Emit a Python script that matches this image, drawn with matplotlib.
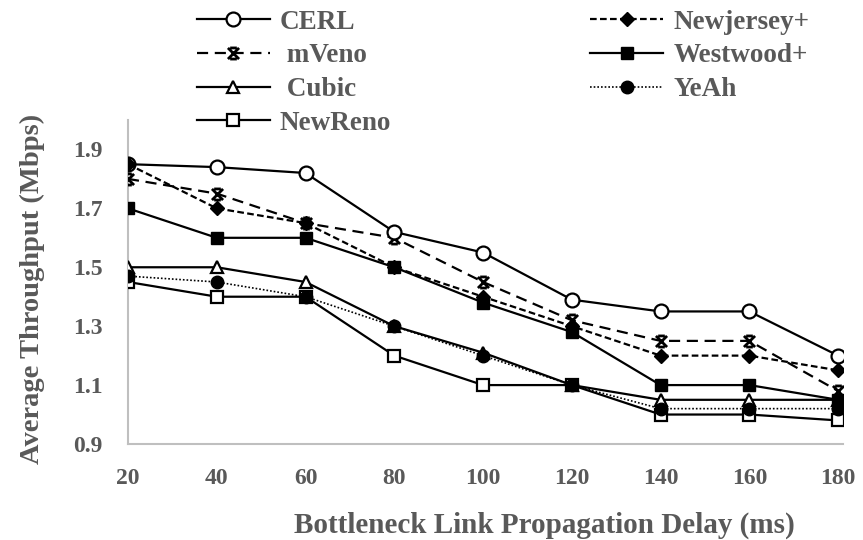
import matplotlib
matplotlib.use('Agg')
import matplotlib.pyplot as plt
from matplotlib.path import Path

# propagation delay (ms) on the bottleneck link
delay = [20, 40, 60, 80, 100, 120, 140, 160, 180]

# average throughput (Mbps) per TCP variant
cerl = [1.85, 1.84, 1.82, 1.62, 1.55, 1.39, 1.35, 1.35, 1.20]
mveno = [1.80, 1.75, 1.65, 1.60, 1.45, 1.32, 1.25, 1.25, 1.08]
cubic = [1.50, 1.50, 1.45, 1.30, 1.21, 1.10, 1.05, 1.05, 1.05]
newreno = [1.45, 1.40, 1.40, 1.20, 1.10, 1.10, 1.00, 1.00, 0.98]
newjersey = [1.85, 1.70, 1.65, 1.50, 1.40, 1.30, 1.20, 1.20, 1.15]
westwood = [1.70, 1.60, 1.60, 1.50, 1.38, 1.28, 1.10, 1.10, 1.05]
yeah = [1.47, 1.45, 1.40, 1.30, 1.20, 1.10, 1.02, 1.02, 1.02]

yticks = [0.9, 1.1, 1.3, 1.5, 1.7, 1.9]

txt = '#595959'
plt.rcParams['font.family'] = 'Liberation Serif'
plt.rcParams['font.weight'] = 'bold'

# "x" with flat caps, used for mVeno
M, L = Path.MOVETO, Path.LINETO
star = Path([(-1, -1), (1, 1), (-1, 1), (1, -1),
             (-0.6, 1), (0.6, 1), (-0.6, -1), (0.6, -1)],
            [M, L, M, L, M, L, M, L])

fig = plt.figure(figsize=(8.63, 5.4), dpi=100)
ax = fig.add_axes([0.1483, 0.1778, 0.8285, 0.60])

lw = 1.6
ax.plot(delay, cerl, '-', color='k', lw=lw, marker='o', ms=10,
        mfc='white', mec='k', mew=1.6, label='CERL', zorder=5)
ax.plot(delay, mveno, color='k', lw=lw, ls=(0, (5, 3)), marker=star,
        ms=8, mec='k', mew=2.0, label=' mVeno', zorder=4)
ax.plot(delay, cubic, '-', color='k', lw=lw, marker='^', ms=8,
        mfc='white', mec='k', mew=1.6, label=' Cubic', zorder=4)
ax.plot(delay, newreno, '-', color='k', lw=lw, marker='s', ms=9,
        mfc='white', mec='k', mew=1.6, label='NewReno', zorder=4)
ax.plot(delay, newjersey, color='k', lw=lw, ls=(0, (3, 1.5)), marker='D',
        ms=7, mfc='k', mec='k', label='Newjersey+', zorder=6)
ax.plot(delay, westwood, '-', color='k', lw=lw, marker='s', ms=9,
        mfc='k', mec='k', label='Westwood+', zorder=4)
ax.plot(delay, yeah, color='k', lw=1.2, ls=(0, (1, 1.2)), marker='o', ms=9,
        mfc='k', mec='k', label='YeAh', zorder=4)

ax.set_xlim(20, 181.1)
ax.set_ylim(0.9, 2.0)
ax.set_xticks(delay)
ax.set_yticks(yticks)
ax.set_yticklabels(['%.1f' % v for v in yticks])
ax.tick_params(length=0, labelsize=17, colors=txt)
ax.tick_params(axis='x', pad=17)
ax.tick_params(axis='y', pad=18)
for lab in ax.get_xticklabels() + ax.get_yticklabels():
    lab.set_fontweight('bold')

for s in ['top', 'right']:
    ax.spines[s].set_visible(False)
for s in ['left', 'bottom']:
    ax.spines[s].set_color('#bfbfbf')
    ax.spines[s].set_linewidth(1.5)

ax.set_xlabel('Bottleneck Link Propagation Delay (ms)', fontsize=21,
              fontweight='bold', color=txt)
ax.xaxis.set_label_coords(0.583, -0.208)
ax.set_ylabel('Average Throughput (Mbps)', fontsize=20.5,
              fontweight='bold', color=txt)
ax.yaxis.set_label_coords(-0.116, 0.48)

leg = fig.legend(loc='upper left', bbox_to_anchor=(0.228, 0.982), ncol=2,
                 frameon=False, fontsize=19.5, handlelength=2.7,
                 handletextpad=0.37, columnspacing=7.35, labelspacing=0.32,
                 borderpad=0, borderaxespad=0)
for t in leg.get_texts():
    t.set_color(txt)
    t.set_fontweight('bold')

fig.savefig('out.png', dpi=100)
